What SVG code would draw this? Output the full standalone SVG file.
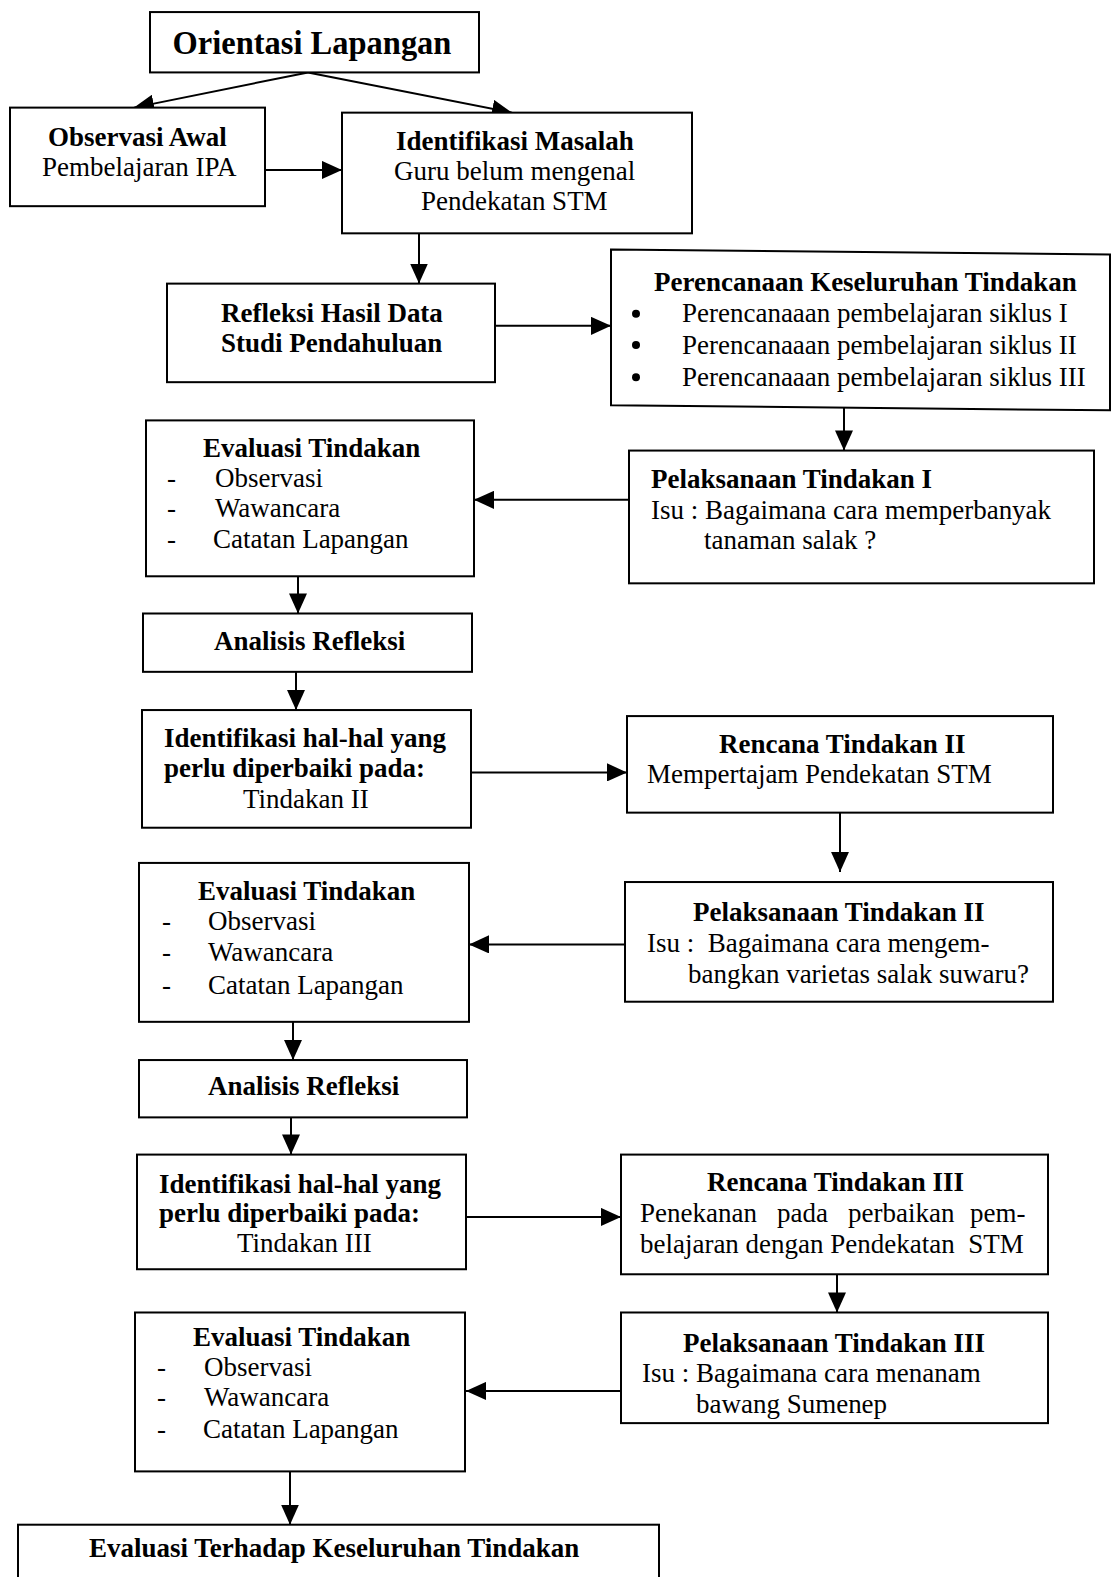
<svg xmlns="http://www.w3.org/2000/svg" width="1111" height="1577" viewBox="0 0 1111 1577">
<style>
.b{fill:#fff;stroke:#000;stroke-width:2}
.c{stroke:#000;stroke-width:2;fill:none;marker-end:url(#ah)}
text{font-family:"Liberation Serif","Times New Roman",serif;font-size:27px;fill:#000}
.t{font-weight:bold}
.m{text-anchor:middle}
.h{font-size:32.5px}
</style>
<defs>
<marker id="ah" markerUnits="userSpaceOnUse" markerWidth="20" markerHeight="18" refX="20" refY="9" orient="auto">
<path d="M0,0 L20,9 L0,18 Z" fill="#000"/>
</marker>
</defs>
<rect width="1111" height="1577" fill="#fff"/>
<g transform="scale(1,1.00574)">
<g id="connectors">
<line class="c" x1="308" y1="72" x2="134" y2="107"/>
<line class="c" x1="308" y1="72" x2="512" y2="112"/>
<line class="c" x1="265" y1="169" x2="342" y2="169"/>
<line class="c" x1="419" y1="232" x2="419" y2="282"/>
<line class="c" x1="495" y1="324" x2="611" y2="324"/>
<line class="c" x1="844" y1="405" x2="844" y2="448"/>
<line class="c" x1="629" y1="497" x2="474" y2="497"/>
<line class="c" x1="298" y1="573" x2="298" y2="610"/>
<line class="c" x1="296" y1="668" x2="296" y2="706"/>
<line class="c" x1="471" y1="768" x2="627" y2="768"/>
<line class="c" x1="840" y1="808" x2="840" y2="867"/>
<line class="c" x1="625" y1="939" x2="469" y2="939"/>
<line class="c" x1="293" y1="1016" x2="293" y2="1054"/>
<line class="c" x1="291" y1="1111" x2="291" y2="1148"/>
<line class="c" x1="466" y1="1210" x2="621" y2="1210"/>
<line class="c" x1="837" y1="1267" x2="837" y2="1305"/>
<line class="c" x1="621" y1="1383" x2="466" y2="1383"/>
<line class="c" x1="290" y1="1463" x2="290" y2="1516"/>
</g>
<g id="n-orientasi">
<rect class="b" x="150" y="12" width="329" height="60"/>
<text class="t m h" x="312" y="54">Orientasi Lapangan</text>
</g>
<g id="n-observasi-awal">
<rect class="b" x="10" y="107" width="255" height="98"/>
<text class="t" x="48" y="145">Observasi Awal</text>
<text x="42" y="175">Pembelajaran IPA</text>
</g>
<g id="n-identifikasi-masalah">
<rect class="b" x="342" y="112" width="350" height="120"/>
<text class="t" x="396" y="149">Identifikasi Masalah</text>
<text x="394" y="179">Guru belum mengenal</text>
<text x="421" y="209">Pendekatan STM</text>
</g>
<g id="n-refleksi">
<rect class="b" x="167" y="282" width="328" height="98"/>
<text class="t" x="221" y="320">Refleksi Hasil Data</text>
<text class="t" x="221" y="350">Studi Pendahuluan</text>
</g>
<g id="n-perencanaan">
<polygon class="b" points="611,248 1110,253 1110,408 611,403"/>
<text class="t" x="654" y="289">Perencanaan Keseluruhan Tindakan</text>
<circle cx="636" cy="312" r="4"/>
<circle cx="636" cy="343" r="4"/>
<circle cx="636" cy="375" r="4"/>
<text x="682" y="320">Perencanaaan pembelajaran siklus I</text>
<text x="682" y="352">Perencanaaan pembelajaran siklus II</text>
<text x="682" y="384">Perencanaaan pembelajaran siklus III</text>
</g>
<g id="n-pelaksanaan-1">
<rect class="b" x="629" y="448" width="465" height="132"/>
<text class="t" x="651" y="485">Pelaksanaan Tindakan I</text>
<text x="651" y="516">Isu : Bagaimana cara memperbanyak</text>
<text x="704" y="546">tanaman salak ?</text>
</g>
<g id="n-evaluasi-1">
<rect class="b" x="146" y="418" width="328" height="155"/>
<text class="t" x="203" y="454">Evaluasi Tindakan</text>
<text x="167" y="484">-</text><text x="215" y="484">Observasi</text>
<text x="167" y="514">-</text><text x="215" y="514">Wawancara</text>
<text x="167" y="545">-</text><text x="213" y="545">Catatan Lapangan</text>
</g>
<g id="n-analisis-1">
<rect class="b" x="143" y="610" width="329" height="58"/>
<text class="t" x="214" y="646">Analisis Refleksi</text>
</g>
<g id="n-identifikasi-2">
<rect class="b" x="142" y="706" width="329" height="117"/>
<text class="t" x="164" y="743">Identifikasi hal-hal yang</text>
<text class="t" x="164" y="773">perlu diperbaiki pada:</text>
<text x="243" y="803">Tindakan II</text>
</g>
<g id="n-rencana-2">
<rect class="b" x="627" y="712" width="426" height="96"/>
<text class="t" x="719" y="749">Rencana Tindakan II</text>
<text x="647" y="779">Mempertajam Pendekatan STM</text>
</g>
<g id="n-pelaksanaan-2">
<rect class="b" x="625" y="877" width="428" height="119"/>
<text class="t" x="693" y="916">Pelaksanaan Tindakan II</text>
<text x="647" y="947" xml:space="preserve">Isu :  Bagaimana cara mengem-</text>
<text x="688" y="977">bangkan varietas salak suwaru?</text>
</g>
<g id="n-evaluasi-2">
<rect class="b" x="139" y="858" width="330" height="158"/>
<text class="t" x="198" y="895">Evaluasi Tindakan</text>
<text x="162" y="925">-</text><text x="208" y="925">Observasi</text>
<text x="162" y="956">-</text><text x="208" y="956">Wawancara</text>
<text x="162" y="988">-</text><text x="208" y="988">Catatan Lapangan</text>
</g>
<g id="n-analisis-2">
<rect class="b" x="139" y="1054" width="328" height="57"/>
<text class="t" x="208" y="1089">Analisis Refleksi</text>
</g>
<g id="n-identifikasi-3">
<rect class="b" x="137" y="1148" width="329" height="114"/>
<text class="t" x="159" y="1186">Identifikasi hal-hal yang</text>
<text class="t" x="159" y="1215">perlu diperbaiki pada:</text>
<text x="237" y="1245">Tindakan III</text>
</g>
<g id="n-rencana-3">
<rect class="b" x="621" y="1148" width="427" height="119"/>
<text class="t" x="707" y="1184">Rencana Tindakan III</text>
<text y="1215"><tspan x="640">Penekanan</tspan> <tspan x="777">pada</tspan> <tspan x="848">perbaikan</tspan> <tspan x="970">pem-</tspan></text>
<text x="640" y="1246" xml:space="preserve">belajaran dengan Pendekatan  STM</text>
</g>
<g id="n-pelaksanaan-3">
<rect class="b" x="621" y="1305" width="427" height="110"/>
<text class="t" x="683" y="1344">Pelaksanaan Tindakan III</text>
<text x="642" y="1374">Isu : Bagaimana cara menanam</text>
<text x="696" y="1405">bawang Sumenep</text>
</g>
<g id="n-evaluasi-3">
<rect class="b" x="135" y="1305" width="330" height="158"/>
<text class="t" x="193" y="1338">Evaluasi Tindakan</text>
<text x="157" y="1368">-</text><text x="204" y="1368">Observasi</text>
<text x="157" y="1398">-</text><text x="204" y="1398">Wawancara</text>
<text x="157" y="1430">-</text><text x="203" y="1430">Catatan Lapangan</text>
</g>
<g id="n-evaluasi-akhir">
<rect class="b" x="18" y="1516" width="641" height="62"/>
<text class="t" x="89" y="1548">Evaluasi Terhadap Keseluruhan Tindakan</text>
</g>
</g>
</svg>
